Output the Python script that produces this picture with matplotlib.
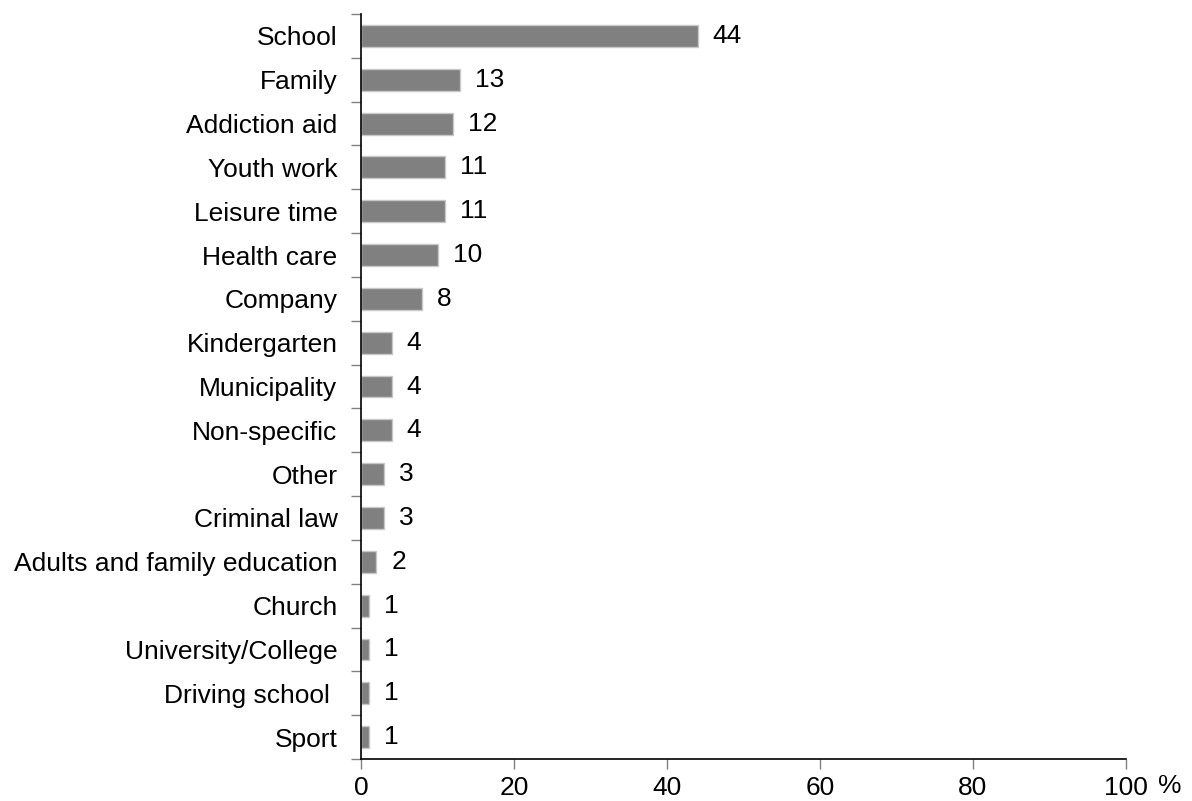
import matplotlib.pyplot as plt
import numpy as np

plt.rcParams['font.family'] = ['Liberation Sans', 'DejaVu Sans']

categories = ["School", "Family", "Addiction aid", "Youth work", "Leisure time",
              "Health care", "Company", "Kindergarten", "Municipality", "Non-specific",
              "Other", "Criminal law", "Adults and family education", "Church",
              "University/College", "Driving school ", "Sport"]
values = [44, 13, 12, 11, 11, 10, 8, 4, 4, 4, 3, 3, 2, 1, 1, 1, 1]
x_ticks = [0, 20, 40, 60, 80, 100]

fs = 19

fig = plt.figure(figsize=(11.92, 8.01), dpi=100)
ax = fig.add_axes([0.3029, 0.0524, 0.6417, 0.9301])

y = np.arange(len(categories))
ax.barh(y, values, height=0.5, color='#808080', edgecolor='#c8c8c8', linewidth=1)

for yi, v in zip(y, values):
    ax.annotate(str(v), (v, yi), xytext=(15, 0), textcoords='offset pixels',
                va='center', ha='left', fontsize=fs)

ax.set_xlim(0, 100)
ax.set_ylim(len(categories) - 0.5, -0.5)
ax.set_xticks(x_ticks)
ax.set_xticklabels([str(t) for t in x_ticks], fontsize=fs)
ax.set_yticks(y)
ax.set_yticklabels(categories, fontsize=fs)
ax.set_yticks(np.arange(len(categories) + 1) - 0.5, minor=True)

ax.tick_params(axis='y', which='major', length=0, pad=17)
ax.tick_params(axis='y', which='minor', length=7, color='#808080', width=1)
ax.tick_params(axis='x', length=7, color='#808080', width=1, pad=5)

for s in ['top', 'right']:
    ax.spines[s].set_visible(False)
ax.spines['left'].set_linewidth(1.2)
ax.spines['bottom'].set_linewidth(1.2)

fig.text(1170 / 1192, 1 - 786 / 801, "%", fontsize=fs, ha='center', va='center')

fig.savefig('out.png', dpi=100)
